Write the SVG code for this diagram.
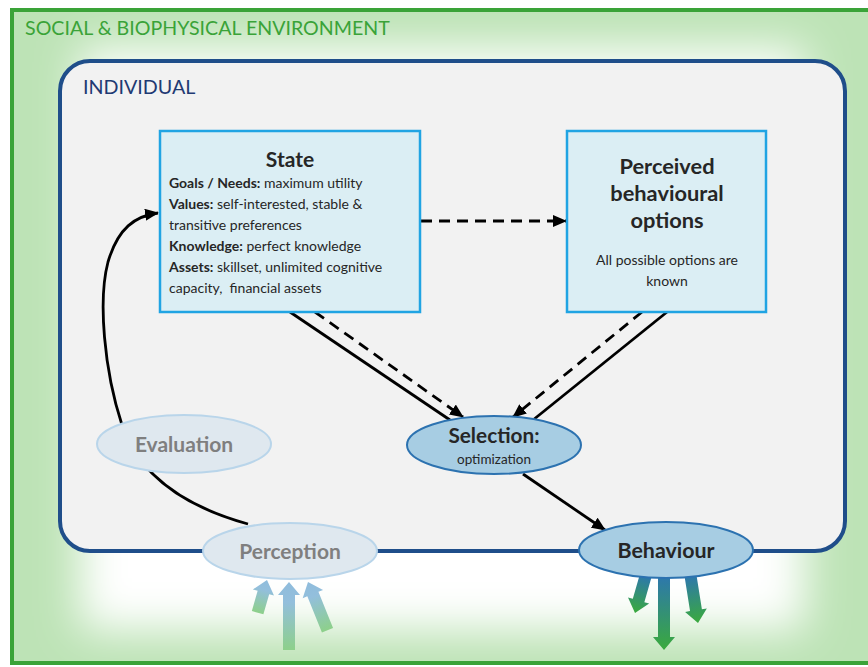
<svg xmlns="http://www.w3.org/2000/svg" width="868" height="667" viewBox="0 0 868 667">
  <style>
    .t { font-family: Lato, "Open Sans", "Liberation Sans", sans-serif; }
    .box { fill: #dbeef4; stroke: #20a4e3; stroke-width: 2.5; }
    .sel { fill: #a7cde3; stroke: #2c72b0; stroke-width: 2; }
    .pale { fill: #dfe8ef; stroke: #b9d5ea; stroke-width: 2; }
    .dark { fill: #262626; }
    .grey { fill: #7f7f7f; font-weight: bold; font-size: 21px; }
    .link { fill: none; stroke: #000; stroke-width: 2.8; }
    .dash { stroke-dasharray: 11 7; }
  </style>
  <defs>
    <marker id="head" viewBox="0 0 14 12" refX="13" refY="6" markerWidth="14" markerHeight="12" markerUnits="userSpaceOnUse" orient="auto">
      <path d="M0,0 L14,6 L0,12 Z" fill="#000"/>
    </marker>
    <linearGradient id="inGrad" x1="0" y1="1" x2="0" y2="0">
      <stop offset="0" stop-color="#8dd08a"/>
      <stop offset="0.7" stop-color="#93bfdc"/>
      <stop offset="1" stop-color="#8fbcdc"/>
    </linearGradient>
    <linearGradient id="outGrad" x1="0" y1="0" x2="0" y2="1">
      <stop offset="0" stop-color="#2c73b7"/>
      <stop offset="1" stop-color="#3aaa3c"/>
    </linearGradient>
    <filter id="soft" x="-20%" y="-20%" width="140%" height="140%">
      <feGaussianBlur stdDeviation="22"/>
    </filter>
    <clipPath id="frameClip">
      <rect x="12" y="10" width="870" height="653"/>
    </clipPath>
  </defs>

  <rect width="868" height="667" fill="#ffffff"/>

  <!-- environment frame with soft inner green glow -->
  <g id="environment">
    <g clip-path="url(#frameClip)">
      <rect x="12" y="10" width="870" height="653" fill="#bde3b6"/>
      <rect x="80" y="48" width="725" height="582" fill="#ffffff" filter="url(#soft)"/>
    </g>
    <rect x="12" y="10" width="870" height="653" fill="none" stroke="#3aa338" stroke-width="4"/>
    <text class="t" x="25" y="35" font-size="19.6" fill="#3aa338">SOCIAL &amp; BIOPHYSICAL ENVIRONMENT</text>
  </g>

  <!-- individual container -->
  <g id="individual">
    <rect x="60" y="61" width="785" height="490" rx="30" fill="#f2f2f2" stroke="#1f4e8a" stroke-width="4"/>
    <text class="t" x="83" y="94" font-size="19.7" fill="#1f3a73">INDIVIDUAL</text>
  </g>

  <!-- flows in and out of the individual -->
  <g id="flows">
    <path transform="translate(267,580) rotate(16)" d="M0,0 L11,13 L6,13 L6,34 L-6,34 L-6,13 L-11,13 Z" fill="url(#inGrad)"/>
    <path transform="translate(289,582)" d="M0,0 L11,13 L6,13 L6,68 L-6,68 L-6,13 L-11,13 Z" fill="url(#inGrad)"/>
    <path transform="translate(308,582) rotate(-22)" d="M0,0 L11,13 L6,13 L6,52 L-6,52 L-6,13 L-11,13 Z" fill="url(#inGrad)"/>
    <path transform="translate(635,613) rotate(16)" d="M0,0 L-11,-13 L-6,-13 L-6,-42 L6,-42 L6,-13 L11,-13 Z" fill="url(#outGrad)"/>
    <path transform="translate(664,650)" d="M0,0 L-11,-13 L-6,-13 L-6,-80 L6,-80 L6,-13 L11,-13 Z" fill="url(#outGrad)"/>
    <path transform="translate(698,623) rotate(-9)" d="M0,0 L-11,-13 L-6,-13 L-6,-52 L6,-52 L6,-13 L11,-13 Z" fill="url(#outGrad)"/>
  </g>

  <!-- connectors -->
  <g id="connectors">
    <path class="link" d="M248,524 C190,508 140,478 122,425 C104,370 98,300 108,262 C118,228 135,216 158,213" marker-end="url(#head)"/>
    <line class="link dash" x1="421" y1="221" x2="566" y2="221" marker-end="url(#head)"/>
    <line class="link" x1="290" y1="312" x2="450" y2="420"/>
    <line class="link dash" x1="315" y1="312" x2="463" y2="417" marker-end="url(#head)"/>
    <line class="link" x1="667" y1="312" x2="533" y2="420"/>
    <line class="link dash" x1="642" y1="312" x2="513" y2="417" marker-end="url(#head)"/>
    <line class="link" x1="523" y1="474" x2="605" y2="530" marker-end="url(#head)"/>
  </g>

  <g id="state">
    <rect class="box" x="160" y="131" width="260" height="181"/>
    <text class="t dark" x="290" y="167" font-size="21" font-weight="bold" text-anchor="middle">State</text>
    <g class="t dark" font-size="14">
      <text x="169" y="188"><tspan font-weight="bold">Goals / Needs:</tspan> maximum utility</text>
      <text x="169" y="209"><tspan font-weight="bold">Values:</tspan> self-interested, stable &amp;</text>
      <text x="169" y="230">transitive preferences</text>
      <text x="169" y="251"><tspan font-weight="bold">Knowledge:</tspan> perfect knowledge</text>
      <text x="169" y="272"><tspan font-weight="bold">Assets:</tspan> skillset, unlimited cognitive</text>
      <text x="169" y="293">capacity,&#160; financial assets</text>
    </g>
  </g>

  <g id="options">
    <rect class="box" x="567" y="131" width="199" height="181"/>
    <g class="t dark" font-size="21.8" font-weight="bold" text-anchor="middle">
      <text x="667" y="174">Perceived</text>
      <text x="667" y="201">behavioural</text>
      <text x="667" y="228">options</text>
    </g>
    <g class="t dark" font-size="14" text-anchor="middle">
      <text x="667" y="265">All possible options are</text>
      <text x="667" y="286">known</text>
    </g>
  </g>

  <g id="evaluation">
    <ellipse class="pale" cx="184" cy="444" rx="87" ry="29"/>
    <text class="t grey" x="184" y="452" text-anchor="middle">Evaluation</text>
  </g>

  <g id="selection">
    <ellipse class="sel" cx="494" cy="445" rx="87" ry="29"/>
    <text class="t dark" x="494" y="443" font-size="20.8" font-weight="bold" text-anchor="middle">Selection:</text>
    <text class="t dark" x="494" y="464" font-size="13.5" text-anchor="middle">optimization</text>
  </g>

  <g id="perception">
    <ellipse class="pale" cx="290" cy="551" rx="87" ry="28"/>
    <text class="t grey" x="290" y="559" text-anchor="middle">Perception</text>
  </g>

  <g id="behaviour">
    <ellipse class="sel" cx="666" cy="550" rx="87" ry="28"/>
    <text class="t dark" x="666" y="558" font-size="21.4" font-weight="bold" text-anchor="middle">Behaviour</text>
  </g>
</svg>
